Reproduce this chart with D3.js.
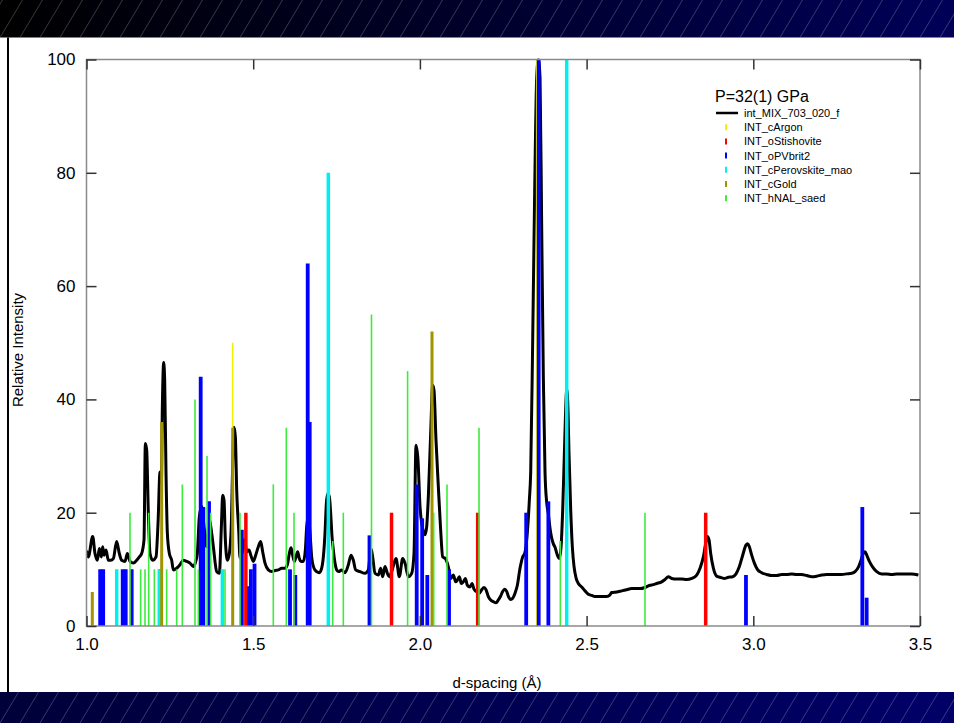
<!DOCTYPE html>
<html>
<head>
<meta charset="utf-8">
<script src="https://cdn.jsdelivr.net/npm/d3@7.8.5/dist/d3.min.js"></script>
<style>
  html, body { margin: 0; padding: 0; background: #fff; }
  svg { display: block; font-family: "Liberation Sans", Arial, Helvetica, sans-serif; }
</style>
</head>
<body>
<div id="chart"></div>
<script>
// measured pattern, d-spacing (Å) vs relative intensity
const pattern = [
  [1.000,13.3],[1.0055,12.2],[1.0185,15.8],[1.0255,12.8],[1.0325,11.6],[1.0385,13.7],[1.0445,12.2],[1.0485,14.0],
  [1.0525,12.5],[1.0585,13.4],[1.0655,11.6],[1.0725,11.6],[1.0805,11.9],[1.0905,14.9],[1.0985,12.8],[1.1055,11.6],
  [1.1155,11.4],[1.1225,12.8],[1.1305,11.4],[1.1405,11.1],[1.1505,11.6],[1.1585,12.2],[1.1655,12.8],[1.1725,15.2],
  [1.1765,32.2],[1.1805,31.1],[1.1855,19.9],[1.1905,12.8],[1.1985,11.6],[1.2085,12.2],[1.2145,18.1],[1.2205,27.2],
  [1.2245,25.2],[1.2275,38.7],[1.2315,46.5],[1.2345,43.4],[1.2385,26.9],[1.2425,16.4],[1.2485,12.8],[1.2555,11.6],
  [1.2605,9.9],[1.2705,10.2],[1.2805,10.8],[1.2905,11.6],[1.3005,11.4],[1.3105,11.1],[1.3205,10.5],[1.3285,11.6],
  [1.3325,12.8],[1.3385,19.3],[1.3455,21.1],[1.3525,17.5],[1.3605,14.0],[1.3685,18.7],[1.3755,16.4],[1.3805,14.0],
  [1.3905,9.6],[1.3985,9.3],[1.4045,17.5],[1.4085,23.1],[1.4125,22.2],[1.4165,15.2],[1.4225,11.6],[1.4285,12.8],
  [1.4345,18.1],[1.4385,28.7],[1.4425,35.1],[1.4465,33.4],[1.4505,24.0],[1.4565,16.9],[1.4604,12.0],[1.4684,13.4],
  [1.4744,15.3],[1.4804,13.1],[1.4874,13.4],[1.4934,12.4],[1.5004,11.4],[1.5074,12.5],[1.5154,14.0],[1.5224,14.9],
  [1.5284,13.1],[1.5354,11.1],[1.5454,9.9],[1.5554,9.6],[1.5654,9.8],[1.5754,9.9],[1.5854,10.2],[1.5954,10.2],
  [1.6024,10.8],[1.6084,12.8],[1.6134,13.8],[1.6184,12.5],[1.6234,11.4],[1.6284,12.2],[1.6334,13.1],[1.6384,11.9],
  [1.6434,11.4],[1.6504,11.4],[1.6564,13.4],[1.6604,17.5],[1.6654,19.3],[1.6704,16.4],[1.6754,12.2],[1.6824,10.2],
  [1.6904,9.6],[1.6984,9.4],[1.7054,10.2],[1.7104,12.2],[1.7154,16.4],[1.7194,21.6],[1.7234,23.4],[1.7284,22.8],
  [1.7324,19.9],[1.7364,15.8],[1.7404,13.4],[1.7454,11.1],[1.7504,9.9],[1.7564,9.6],[1.7654,9.9],[1.7754,9.4],
  [1.7854,10.8],[1.7934,12.5],[1.8004,11.6],[1.8074,9.9],[1.8203,9.6],[1.8353,9.3],[1.8453,9.9],[1.8533,13.7],
  [1.8583,12.2],[1.8653,9.3],[1.8753,9.0],[1.8823,10.2],[1.8883,8.7],[1.8953,10.5],[1.9023,9.3],[1.9083,8.7],
  [1.9153,9.6],[1.9283,11.9],[1.9383,8.7],[1.9483,11.9],[1.9553,11.1],[1.9653,8.7],[1.9753,9.3],[1.9823,12.8],
  [1.9883,31.9],[1.9943,29.3],[2.0003,21.1],[2.0073,17.5],[2.0153,16.1],[2.0203,17.5],[2.0253,22.8],[2.0323,34.0],
  [2.0383,42.5],[2.0423,41.6],[2.0483,32.8],[2.0553,24.6],[2.0623,16.9],[2.0683,12.2],[2.0763,11.9],[2.0823,11.1],
  [2.0873,9.9],[2.0923,8.4],[2.1003,9.0],[2.1073,7.8],[2.1123,8.1],[2.1183,8.7],[2.1243,7.5],[2.1303,7.8],
  [2.1363,8.4],[2.1423,7.2],[2.1503,6.9],[2.1563,7.5],[2.1623,6.5],[2.1683,6.1],[2.1723,6.4],[2.1783,5.8],
  [2.1853,6.4],[2.1923,6.8],[2.1983,6.4],[2.2053,5.2],[2.2123,4.6],[2.2203,4.3],[2.2283,4.1],[2.2353,4.6],
  [2.2423,5.3],[2.2483,6.1],[2.2543,6.5],[2.2603,6.1],[2.2663,5.1],[2.2723,4.7],[2.2783,4.9],[2.2853,5.8],
  [2.2923,7.2],[2.3003,10.2],[2.3083,12.2],[2.3143,12.8],[2.3203,15.2],[2.3283,22.2],[2.3323,27.1],[2.3383,50.4],
  [2.3443,76.9],[2.3503,96.8],[2.3553,100],[2.3603,96.8],[2.3653,70.3],[2.3703,43.7],[2.3753,27.1],[2.3803,21.8],
  [2.3853,19.8],[2.3903,17.2],[2.3953,15.5],[2.4003,14.5],[2.4053,13.9],[2.4123,12.5],[2.4183,11.9],[2.4233,13.9],
  [2.4283,20.5],[2.4333,30.4],[2.4373,38.4],[2.4403,41.7],[2.4433,39.7],[2.4473,30.4],[2.4523,20.5],[2.4573,13.9],
  [2.4623,10.5],[2.4683,8.5],[2.4753,7.5],[2.4853,6.9],[2.4953,6.2],[2.5053,5.6],[2.5153,5.4],[2.5253,5.2],
  [2.5402,5.2],[2.5602,5.2],[2.5702,5.5],[2.5752,5.9],[2.5902,6.0],[2.6052,6.2],[2.6202,6.4],[2.6352,6.6],
  [2.6452,6.6],[2.6602,6.6],[2.6752,6.8],[2.6902,7.2],[2.7002,7.3],[2.7102,7.5],[2.7252,7.8],[2.7352,8.2],
  [2.7452,8.7],[2.7552,8.4],[2.7702,8.3],[2.7852,8.3],[2.8002,8.2],[2.8152,8.4],[2.8302,9.0],[2.8402,10.2],
  [2.8502,12.2],[2.8582,14.9],[2.8622,15.8],[2.8672,15.2],[2.8722,12.8],[2.8802,10.2],[2.8902,8.8],[2.9002,8.6],
  [2.9122,8.4],[2.9252,8.6],[2.9382,8.7],[2.9482,9.2],[2.9582,10.5],[2.9682,12.5],[2.9782,14.3],[2.9832,14.5],
  [2.9882,14.0],[2.9952,12.5],[3.0032,11.1],[3.0122,10.0],[3.0252,9.4],[3.0402,9.1],[3.0552,8.9],[3.0702,8.9],
  [3.0852,9.1],[3.1002,9.1],[3.1152,9.2],[3.1302,9.1],[3.1452,9.1],[3.1602,8.9],[3.1752,8.7],[3.1902,8.8],
  [3.2052,9.0],[3.2202,9.1],[3.2352,9.1],[3.2502,9.1],[3.2652,9.1],[3.2802,9.2],[3.2952,9.3],[3.3052,9.6],
  [3.3152,10.4],[3.3232,11.6],[3.3302,12.9],[3.3352,13.1],[3.3402,12.5],[3.3482,11.4],[3.3582,10.4],[3.3702,9.6],
  [3.3852,9.2],[3.4002,9.2],[3.4152,9.1],[3.4302,9.2],[3.4452,9.2],[3.4602,9.2],[3.4752,9.2],[3.4952,9.0]
];

// reference stick patterns [d, intensity]
const argonSticks = [[1.4385,50],[2.3503,100]];
const stishoviteSticks = [[1.4780,20],[1.9149,20],[2.1733,20],[2.8572,20]];
const pvSticks = [
  [1.0410,10],[1.0500,10],[1.1086,10],[1.1176,10],[1.1355,10],[1.2225,10],[1.3425,44],[1.3505,21],
  [1.3675,22],[1.4660,17],[1.4875,7],[1.4930,10],[1.5040,11],[1.6104,10],[1.6263,9],[1.6635,64],
  [1.6695,36],[1.8488,16],[1.9904,25],[2.0068,19],[2.0222,9],[2.0873,10],[2.3188,20],[2.3563,100],
  [2.3853,22],[2.9780,9],[3.3270,21],[3.3400,5]
];
const perovskiteSticks = [[1.0906,10],[1.2183,10],[1.4075,10],[1.7253,80],[2.4403,100]];
const goldSticks = [[1.0174,6],[1.2255,36],[1.4385,35],[2.0363,52]];
const nalSticks = [
  [1.1305,20],[1.1625,10],[1.1755,10],[1.1865,20],[1.2035,10],[1.2405,10],[1.2705,10],[1.2875,25],
  [1.3255,40],[1.3355,10],[1.3615,30],[1.3725,20],[1.4155,10],[1.4604,20],[1.5603,25],[1.5993,35],
  [1.6224,20],[1.7385,15],[1.7703,20],[1.8548,55],[1.9631,45],[2.0414,20],[2.0813,25],[2.1773,35],
  [2.4212,15],[2.6752,20]
];

const patternName = 'int_MIX_703_020_f';
const phaseNames = ['INT_cArgon', 'INT_oStishovite', 'INT_oPVbrit2', 'INT_cPerovskite_mao', 'INT_cGold', 'INT_hNAL_saed'];
const phaseSticks = [argonSticks, stishoviteSticks, pvSticks, perovskiteSticks, goldSticks, nalSticks];
const phaseColors = ['#f2f200', '#ff0000', '#0000ff', '#00f0f0', '#a09400', '#3cec3c'];
const phaseWidths = [1.6, 3.5, 3.8, 3.5, 3, 1.6];

const xTicks = [1.0, 1.5, 2.0, 2.5, 3.0, 3.5];
const yTicks = [0, 20, 40, 60, 80, 100];
const pressureLabel = 'P=32(1) GPa';

const W = 954, H = 723;
const plot = { left: 86.5, right: 920, top: 59.5, bottom: 626 };

const svg = d3.select('#chart').append('svg')
  .attr('width', W).attr('height', H);

const defs = svg.append('defs');

// banners
const topGrad = defs.append('linearGradient').attr('id', 'topGrad');
topGrad.append('stop').attr('offset', '0%').attr('stop-color', '#000000');
topGrad.append('stop').attr('offset', '100%').attr('stop-color', '#000058');
const botGrad = defs.append('linearGradient').attr('id', 'botGrad');
botGrad.append('stop').attr('offset', '0%').attr('stop-color', '#00003a');
botGrad.append('stop').attr('offset', '100%').attr('stop-color', '#000068');

function banner(y0, y1, fill) {
  const g = svg.append('g');
  g.append('rect').attr('x', 0).attr('y', y0).attr('width', W).attr('height', y1 - y0).attr('fill', fill);
  const h = y1 - y0;
  g.append('clipPath').attr('id', 'clip' + y0)
    .append('rect').attr('x', 0).attr('y', y0).attr('width', W).attr('height', h);
  g.append('g').attr('clip-path', `url(#clip${y0})`)
    .selectAll('line').data(d3.range(-40, W + 40, 20)).join('line')
    .attr('x1', d => d).attr('y1', y1)
    .attr('x2', d => d + h * 0.6).attr('y2', y0)
    .attr('stroke', 'rgba(255,255,255,0.32)').attr('stroke-width', 0.7);
}
banner(0, 37.5, 'url(#topGrad)');
banner(692, H, 'url(#botGrad)');

svg.append('line').attr('x1', 8).attr('x2', 8).attr('y1', 37.5).attr('y2', 692)
  .attr('stroke', '#000').attr('stroke-width', 2);

const x = d3.scaleLinear().domain([1.0, 3.5]).range([plot.left, plot.right]);
const y = d3.scaleLinear().domain([0, 100]).range([plot.bottom, plot.top]);

defs.append('clipPath').attr('id', 'plotClip')
  .append('rect').attr('x', plot.left).attr('y', plot.top - 1)
  .attr('width', plot.right - plot.left).attr('height', plot.bottom - plot.top + 1);

const body = svg.append('g').attr('clip-path', 'url(#plotClip)');

// measured pattern
const line = d3.line().x(d => x(d[0])).y(d => y(d[1])).curve(d3.curveMonotoneX);
body.append('path').datum(pattern)
  .attr('d', line)
  .attr('fill', 'none').attr('stroke', '#000')
  .attr('stroke-width', 3).attr('stroke-linejoin', 'round');

// sticks
phaseSticks.forEach((sticks, i) => {
  body.append('g').selectAll('line').data(sticks).join('line')
    .attr('x1', d => x(d[0])).attr('x2', d => x(d[0]))
    .attr('y1', y(0)).attr('y2', d => y(d[1]))
    .attr('stroke', phaseColors[i]).attr('stroke-width', phaseWidths[i]);
});

// frame
svg.append('rect')
  .attr('x', plot.left).attr('y', plot.top)
  .attr('width', plot.right - plot.left).attr('height', plot.bottom - plot.top)
  .attr('fill', 'none').attr('stroke', '#8a8a8a').attr('stroke-width', 1.5);

// axes, ticks inward on all sides
function styleAxis(g) {
  g.select('.domain').remove();
  g.selectAll('.tick line').attr('stroke', '#333').attr('stroke-width', 1.5);
  g.selectAll('.tick text').attr('fill', '#000').style('font-size', '17px')
    .style('font-family', '"Liberation Sans", Arial, sans-serif');
}
svg.append('g').attr('transform', `translate(0,${plot.bottom})`)
  .call(d3.axisBottom(x).tickValues(xTicks).tickFormat(d3.format('.1f')).tickSizeInner(-10).tickSizeOuter(0).tickPadding(12))
  .call(styleAxis);
svg.append('g').attr('transform', `translate(0,${plot.top})`)
  .call(d3.axisTop(x).tickValues(xTicks).tickFormat('').tickSizeInner(-10).tickSizeOuter(0))
  .call(styleAxis);
svg.append('g').attr('transform', `translate(${plot.left},0)`)
  .call(d3.axisLeft(y).tickValues(yTicks).tickSizeInner(-10).tickSizeOuter(0).tickPadding(11))
  .call(styleAxis);
svg.append('g').attr('transform', `translate(${plot.right},0)`)
  .call(d3.axisRight(y).tickValues(yTicks).tickFormat('').tickSizeInner(-10).tickSizeOuter(0))
  .call(styleAxis);

// axis titles
svg.append('text')
  .attr('x', 497).attr('y', 688)
  .attr('text-anchor', 'middle').style('font-size', '15px')
  .text('d-spacing (Å)');
svg.append('text')
  .attr('transform', 'translate(23,350) rotate(-90)')
  .attr('text-anchor', 'middle').style('font-size', '15px')
  .text('Relative Intensity');

// legend
const legend = svg.append('g').attr('transform', 'translate(715,0)');
legend.append('text').attr('x', 0).attr('y', 102).style('font-size', '16px').text(pressureLabel);
const rowY = i => 113 + i * 14.2;
legend.append('line').attr('x1', 1).attr('x2', 23).attr('y1', rowY(0)).attr('y2', rowY(0))
  .attr('stroke', '#000').attr('stroke-width', 2.5);
legend.append('text').attr('x', 29).attr('y', rowY(0) + 4).style('font-size', '11px').text(patternName);
phaseNames.forEach((name, i) => {
  const cy = rowY(i + 1);
  legend.append('line').attr('x1', 11).attr('x2', 11).attr('y1', cy - 3).attr('y2', cy + 3)
    .attr('stroke', phaseColors[i]).attr('stroke-width', 2);
  legend.append('text').attr('x', 29).attr('y', cy + 4).style('font-size', '11px').text(name);
});
</script>
</body>
</html>
